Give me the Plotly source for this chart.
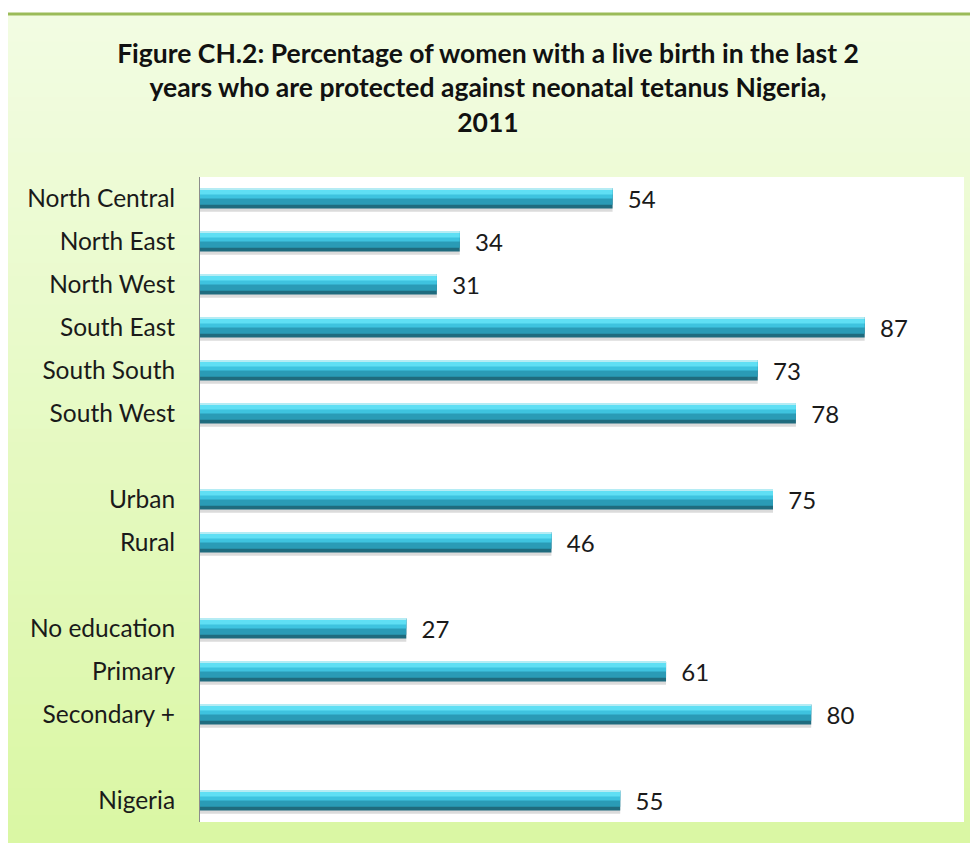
import plotly.graph_objects as go

categories = ["North Central", "North East", "North West", "South East", "South South",
              "South West", " ", "Urban", "Rural", "  ", "No education", "Primary",
              "Secondary +", "   ", "Nigeria"]
values = [54, 34, 31, 87, 73, 78, None, 75, 46, None, 27, 61, 80, None, 55]
title_lines = ["Figure CH.2: Percentage of women with a live birth in the last 2",
               "years who are protected against neonatal tetanus Nigeria,",
               "2011"]

# page body has an 8px margin; work in screenshot pixels and convert
OFF = 8
W, H = 978 - OFF, 843 - OFF
L, R, T, B = 200 - OFF, 964 - OFF, 177 - OFF, 822 - OFF


def px_x(p):
    return (p - OFF - L) / (R - L)


def px_y(p):
    return (B - (p - OFF)) / (B - T)


bw = 0.46
start = -bw / 2
layers = [
    # (color, offset, width)
    ("rgba(110,110,110,0.25)", start + 0.08, bw),
    ("#1f6b7e", start, bw),
    ("#2a9bb6", start, bw * 0.82),
    ("#3ec3df", start, bw * 0.50),
    ("#5fdff4", start + 0.02, bw * 0.26),
    ("#b5ecf4", start, 0.025),
]

fig = go.Figure()
for i, (col, off, wd) in enumerate(layers):
    fig.add_trace(go.Bar(
        y=categories, x=values, orientation="h",
        marker=dict(color=col, line=dict(width=0)),
        offset=off, width=wd, showlegend=False, hoverinfo="skip",
        texttemplate="  %{x}" if i == 1 else None,
        textposition="outside" if i == 1 else "none",
        constraintext="none",
        textfont=dict(family="Lato, Noto Sans, sans-serif", size=24, color="#1a1a1a"),
        cliponaxis=False,
    ))

shapes = []
n = 60
top_px, bot_px = 14, 843
c0 = (242, 252, 226)
c1 = (218, 247, 164)
for k in range(n):
    y0p = top_px + (bot_px - top_px) * k / n
    y1p = top_px + (bot_px - top_px) * (k + 1) / n + 1
    t = k / (n - 1)
    c = tuple(round(c0[j] + (c1[j] - c0[j]) * t) for j in range(3))
    shapes.append(dict(type="rect", xref="paper", yref="paper",
                       x0=px_x(5), x1=px_x(995), y0=px_y(y1p), y1=px_y(y0p),
                       fillcolor="rgb(%d,%d,%d)" % c, line=dict(width=0), layer="below"))
shapes.append(dict(type="rect", xref="paper", yref="paper", x0=0, x1=1, y0=0, y1=1,
                   fillcolor="white", line=dict(width=0), layer="below"))
shapes.append(dict(type="rect", xref="paper", yref="paper",
                   x0=px_x(5), x1=px_x(995), y0=px_y(870), y1=px_y(14),
                   fillcolor="rgba(0,0,0,0)", line=dict(color="#9bbb59", width=3), layer="above"))

fig.update_layout(
    width=W, height=H,
    margin=dict(l=L, r=W - R, t=T, b=H - B),
    paper_bgcolor="white", plot_bgcolor="white",
    barmode="overlay",
    shapes=shapes,
    title=dict(text="<br>".join(title_lines), x=(488 - OFF) / W, xanchor="center",
               y=1 - (63 - OFF) / H, yanchor="top",
               font=dict(family="Lato, Noto Sans, sans-serif", size=26.5, color="#111111", weight="bold")),
    xaxis=dict(range=[0, 100], showticklabels=False, showgrid=False, zeroline=False,
               showline=False, fixedrange=True),
    yaxis=dict(categoryorder="array", categoryarray=categories, autorange="reversed",
               showline=True, linecolor="#8c8c8c", linewidth=1, showgrid=False,
               ticks="", ticklabelstandoff=19,
               tickfont=dict(family="Lato, Noto Sans, sans-serif", size=24.5, color="#1a1a1a")),
)

fig.write_html("out.html")
